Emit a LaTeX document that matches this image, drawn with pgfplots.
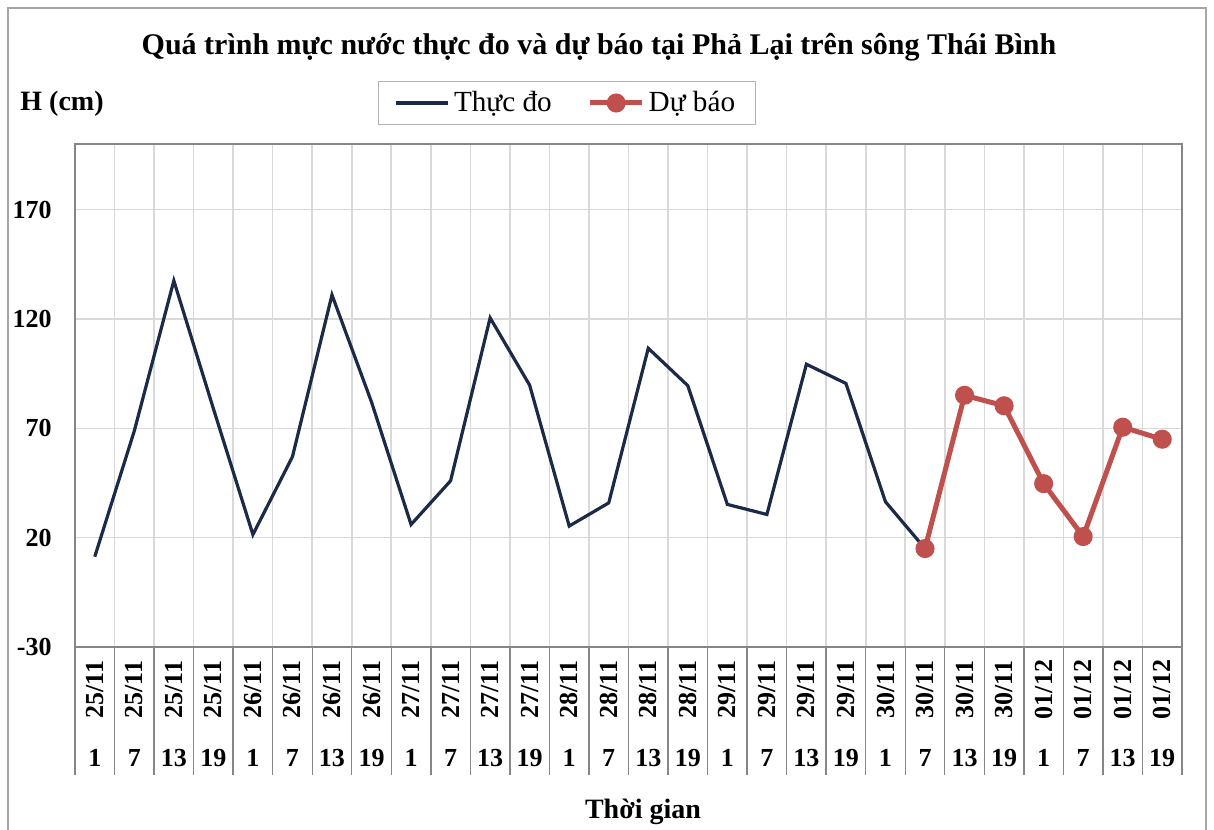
\documentclass[border=0pt]{standalone}
\usepackage{pgfplots}
\pgfplotsset{compat=1.18}
\usepackage{fontspec}
\setmainfont{Liberation Serif}
\usepackage{graphicx}
\definecolor{obs}{HTML}{1B2A47}
\definecolor{fc}{HTML}{C0504D}
\definecolor{gridc}{HTML}{D9D9D9}
\definecolor{axc}{HTML}{868686}
\newcommand{\lab}[2]{\rotatebox{90}{\makebox[29pt][c]{#1}}\\[9pt]\strut#2}
\begin{document}
\begin{tikzpicture}
\useasboundingbox (0,0) rectangle (607pt,414.5pt);
\fill[white] (0,0) rectangle (607pt,414.5pt);
\draw[gray!70, line width=0.8pt] (4pt,-5pt) -- (4pt,410.5pt) -- (603pt,410.5pt) -- (603pt,-5pt);
\begin{axis}[
  at={(37.5pt,91pt)}, anchor=south west, scale only axis,
  width=553.5pt, height=251.5pt,
  xmin=-0.5, xmax=27.5, ymin=-30, ymax=200,
  xtick={0,...,27},
  xticklabels={\lab{25/11}{1},\lab{25/11}{7},\lab{25/11}{13},\lab{25/11}{19},
               \lab{26/11}{1},\lab{26/11}{7},\lab{26/11}{13},\lab{26/11}{19},
               \lab{27/11}{1},\lab{27/11}{7},\lab{27/11}{13},\lab{27/11}{19},
               \lab{28/11}{1},\lab{28/11}{7},\lab{28/11}{13},\lab{28/11}{19},
               \lab{29/11}{1},\lab{29/11}{7},\lab{29/11}{13},\lab{29/11}{19},
               \lab{30/11}{1},\lab{30/11}{7},\lab{30/11}{13},\lab{30/11}{19},
               \lab{01/12}{1},\lab{01/12}{7},\lab{01/12}{13},\lab{01/12}{19}},
  ytick={-30,20,70,120,170},
  yticklabels={-30,20,70,120,170},
  major tick length=0pt,
  minor xtick={-0.5,0.5,...,27.5},
  minor tick length=64pt,
  tick align=outside,
  xtick pos=bottom, ytick pos=left,
  xminorgrids, ymajorgrids, xmajorgrids=false,
  grid style={gridc, line width=0.8pt},
  minor grid style={gridc, line width=0.8pt},
  minor tick style={axc, line width=0.7pt},
  axis line style={axc, line width=0.8pt},
  xticklabel style={align=center, font=\bfseries\fontsize{13}{15}\selectfont, anchor=north, inner sep=0pt, yshift=-6.5pt},
  yticklabel style={font=\bfseries\fontsize{13}{15}\selectfont, anchor=east, inner sep=0pt, xshift=-11.5pt},
  legend style={at={(0.4444,1.0815)}, anchor=center, legend columns=2, draw=gray!60,
    font=\fontsize{14.6}{16}\selectfont, inner xsep=8pt, inner ysep=3pt,
    /tikz/every even column/.append style={column sep=16pt}},
  legend image code/.code={\draw[mark repeat=2,mark phase=2,#1] plot coordinates {(0pt,0pt) (13pt,0pt) (26pt,0pt)};},
]
\addplot[obs, line width=1.6pt, no markers] coordinates {
 (0,11.3) (1,68.8) (2,137.5) (3,79) (4,21.4) (5,57) (6,131) (7,82) (8,26) (9,46)
 (10,120.5) (11,89.7) (12,25.3) (13,35.9) (14,106.6) (15,89.5) (16,35.2) (17,30.6)
 (18,99.3) (19,90.5) (20,36.4) (21,15)};
\addplot[fc, line width=2.5pt, mark=*, mark size=3.5pt, mark options={fill=fc, draw=fc}] coordinates {
 (21,15) (22,85.1) (23,80.3) (24,44.7) (25,20.5) (26,70.5) (27,65)};
\legend{Thực đo, Dự báo}
\end{axis}
\node[font=\bfseries\fontsize{15}{17}\selectfont] at (299.5pt,391pt) {Quá trình mực nước thực đo và dự báo tại Phả Lại trên sông Thái Bình};
\node[font=\bfseries\fontsize{14}{16}\selectfont, anchor=west, inner sep=0pt] at (10pt,362.5pt) {H (cm)};
\node[font=\bfseries\fontsize{14}{16}\selectfont] at (321.5pt,8.5pt) {Thời gian};
\end{tikzpicture}
\end{document}
